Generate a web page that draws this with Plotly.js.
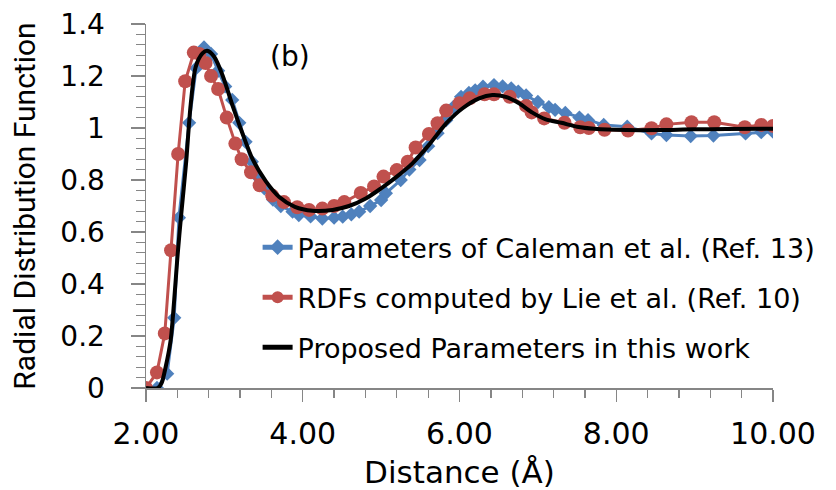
<!DOCTYPE html>
<html>
<head>
<meta charset="utf-8">
<script src="https://cdn.plot.ly/plotly-3.0.1.min.js"></script>
<style>html,body{margin:0;padding:0;background:#fff;}#chart{width:836px;height:490px;}</style>
</head>
<body>
<div id="chart"></div>
<script>
// Parameters of Caleman et al. (Ref. 13)
var calemanX = [2.14,2.27,2.36,2.42,2.55,2.64,2.74,2.83,2.92,3.01,3.10,3.19,3.27,3.35,3.42,3.51,3.62,3.72,3.87,3.95,4.10,4.25,4.40,4.51,4.62,4.72,4.86,5.00,5.06,5.25,5.36,5.49,5.60,5.72,5.83,5.92,6.02,6.12,6.20,6.30,6.44,6.55,6.66,6.75,6.85,7.00,7.14,7.22,7.35,7.53,7.64,7.84,8.14,8.45,8.64,8.95,9.24,9.65,9.85,10.00];
var calemanY = [0.00,0.055,0.27,0.655,1.02,1.23,1.31,1.285,1.22,1.16,1.108,1.02,0.947,0.87,0.813,0.768,0.725,0.70,0.678,0.665,0.66,0.652,0.655,0.659,0.668,0.678,0.70,0.723,0.749,0.80,0.84,0.877,0.93,0.98,1.03,1.08,1.12,1.135,1.145,1.159,1.165,1.16,1.152,1.14,1.125,1.10,1.08,1.07,1.058,1.04,1.03,1.012,1.005,0.979,0.973,0.969,0.971,0.979,0.984,0.986];

// RDFs computed by Lie et al. (Ref. 10)
var lieX = [2.00,2.14,2.24,2.32,2.41,2.50,2.61,2.68,2.76,2.83,2.92,3.03,3.14,3.22,3.34,3.45,3.61,3.76,3.93,4.08,4.25,4.40,4.53,4.74,4.91,5.03,5.20,5.34,5.44,5.61,5.72,5.83,6.00,6.13,6.32,6.44,6.64,6.85,6.92,7.08,7.34,7.54,7.65,7.85,8.15,8.45,8.64,8.96,9.25,9.64,9.85,10.00];
var lieY = [0.00,0.06,0.21,0.53,0.90,1.18,1.29,1.285,1.25,1.20,1.15,1.04,0.94,0.88,0.83,0.78,0.74,0.715,0.695,0.685,0.69,0.70,0.715,0.75,0.775,0.813,0.838,0.87,0.925,0.977,1.018,1.067,1.095,1.114,1.13,1.13,1.12,1.085,1.06,1.037,1.02,1.003,1.00,0.993,0.99,0.999,1.014,1.022,1.022,1.003,1.012,1.008];

// Proposed Parameters in this work
var proposedX = [2.00,2.15,2.20,2.25,2.315,2.36,2.40,2.45,2.51,2.57,2.635,2.72,2.78,2.87,2.975,3.10,3.23,3.36,3.53,3.70,3.90,4.125,4.38,4.59,4.81,5.00,5.20,5.40,5.61,5.83,6.04,6.25,6.42,6.59,6.76,6.93,7.10,7.30,7.50,7.72,8.13,8.55,8.98,9.40,10.00];
var proposedY = [0.00,0.00,0.02,0.08,0.185,0.34,0.50,0.67,0.86,1.09,1.236,1.287,1.297,1.274,1.204,1.09,0.98,0.88,0.795,0.735,0.697,0.682,0.685,0.70,0.73,0.768,0.813,0.864,0.935,1.018,1.076,1.114,1.127,1.12,1.095,1.059,1.033,1.02,1.005,0.997,0.992,0.992,0.995,0.996,0.997];

var seriesNames = ["Parameters of Caleman et al. (Ref. 13)", "RDFs computed by Lie et al. (Ref. 10)", "Proposed Parameters in this work"];
var xTickVals = [2, 4, 6, 8, 10];
var yTickVals = [0, 0.2, 0.4, 0.6, 0.8, 1, 1.2, 1.4];

var traces = [
  {x: calemanX, y: calemanY, name: seriesNames[0], type: 'scatter', mode: 'lines+markers', legendgroup: 'a',
   line: {color: '#4F81BD', width: 3}, marker: {symbol: 'diamond', size: 11, color: '#4F81BD'}},
  {x: lieX, y: lieY, name: seriesNames[1], type: 'scatter', mode: 'lines+markers', legendgroup: 'b',
   line: {color: '#C0504D', width: 3}, marker: {symbol: 'circle', size: 14, color: '#C0504D'}},
  {x: proposedX, y: proposedY, name: seriesNames[2], type: 'scatter', mode: 'lines', legendgroup: 'c',
   line: {color: '#000000', width: 4, shape: 'spline', smoothing: 0.8}}
];

var layout = {
  width: 836, height: 490,
  margin: {l: 146, r: 63, t: 24, b: 102, autoexpand: false},
  paper_bgcolor: '#ffffff', plot_bgcolor: '#ffffff',
  showlegend: true,
  legend: {x: 0.178, y: 0.453, xanchor: 'left', yanchor: 'top', bgcolor: 'rgba(0,0,0,0)',
    font: {family: 'DejaVu Sans', size: 27, color: '#000'}, traceorder: 'grouped', tracegroupgap: 12,
    itemsizing: 'constant'},
  xaxis: {
    range: [2, 10], tickvals: xTickVals, tickformat: '.2f', ticks: 'outside', ticklen: 12, tickwidth: 1.3,
    tickcolor: '#868686', showline: true, linecolor: '#868686', linewidth: 1.5, showgrid: false, zeroline: false,
    tickfont: {family: 'DejaVu Sans', size: 30, color: '#000'}, ticklabelstandoff: 6,
    minor: {dtick: 0.4, tick0: 2, ticks: 'outside', ticklen: 8, tickwidth: 1.3, tickcolor: '#868686', showgrid: false},
    title: {text: 'Distance (Å)', font: {family: 'DejaVu Sans', size: 31, color: '#000'}, standoff: 19}
  },
  yaxis: {
    range: [0, 1.4], tickvals: yTickVals, ticks: 'outside', ticklen: 14, tickwidth: 1.3,
    tickcolor: '#868686', showline: true, linecolor: '#868686', linewidth: 1.5, showgrid: false, zeroline: false,
    tickfont: {family: 'DejaVu Sans', size: 28, color: '#000'}, ticklabelstandoff: 20,
    minor: {dtick: 0.04, tick0: 0, ticks: 'outside', ticklen: 9, tickwidth: 1.3, tickcolor: '#868686', showgrid: false},
    title: {text: 'Radial Distribution Function', font: {family: 'Liberation Sans Narrow, Roboto', size: 30, color: '#000'}, standoff: 16}
  },
  annotations: [
    {text: '(b)', xref: 'paper', yref: 'paper', x: 0.2297, y: 0.912, xanchor: 'center', yanchor: 'middle',
     showarrow: false, font: {family: 'DejaVu Sans', size: 28, color: '#000'}}
  ]
};

Plotly.newPlot('chart', traces, layout, {displayModeBar: false, staticPlot: true});
</script>
</body>
</html>
